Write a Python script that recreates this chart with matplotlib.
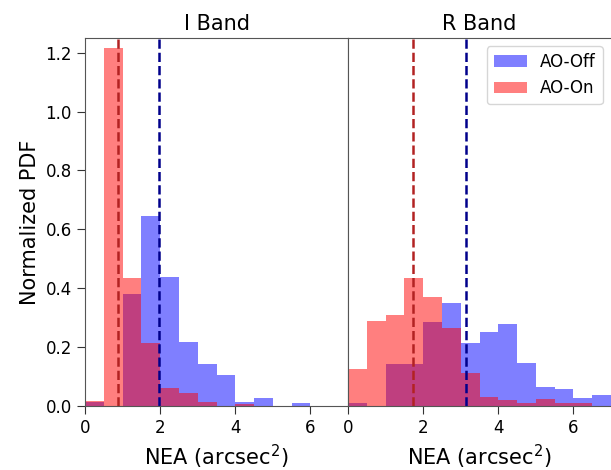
import numpy as np
import matplotlib
matplotlib.use("Agg")
import matplotlib.pyplot as plt

# bin edges (arcsec^2), width 0.5
edges = np.arange(0, 7.01, 0.5)

# I band normalized PDF per bin
i_off = [0.012, 0.0, 0.380, 0.646, 0.438, 0.217, 0.143, 0.105, 0.015, 0.027, 0.0, 0.009, 0.0, 0.0]
i_on = [0.018, 1.217, 0.434, 0.213, 0.060, 0.043, 0.015, 0.0, 0.006, 0.0, 0.0, 0.0, 0.0, 0.0]

# R band normalized PDF per bin
r_off = [0.011, 0.0, 0.143, 0.143, 0.287, 0.349, 0.215, 0.253, 0.277, 0.147, 0.066, 0.057, 0.027, 0.037]
r_on = [0.125, 0.290, 0.310, 0.434, 0.370, 0.266, 0.111, 0.032, 0.020, 0.011, 0.023, 0.011, 0.009, 0.0]

# medians
i_med_off, i_med_on = 1.96, 0.87
r_med_off, r_med_on = 3.13, 1.73

panels = [
    ("I Band", i_off, i_on, i_med_off, i_med_on),
    ("R Band", r_off, r_on, r_med_off, r_med_on),
]

fig = plt.figure(figsize=(6.11, 4.70), dpi=100)
ax1 = fig.add_axes([85 / 611, 64 / 470, 263 / 611, 368 / 470])
ax2 = fig.add_axes([348 / 611, 64 / 470, 263 / 611, 368 / 470], sharey=ax1)

centers = edges[:-1]
for ax, (title, off, on, m_off, m_on) in zip([ax1, ax2], panels):
    ax.hist(centers, bins=edges, weights=off, color="blue", alpha=0.5, label="AO-Off")
    ax.hist(centers, bins=edges, weights=on, color="red", alpha=0.5, label="AO-On")
    ax.axvline(m_off, color="darkblue", ls="--", lw=1.8)
    ax.axvline(m_on, color="firebrick", ls="--", lw=1.8)
    ax.set_xlim(0, 7)
    ax.set_xticks([0, 2, 4, 6])
    ax.set_title(title, fontsize=15, pad=6)
    ax.set_xlabel("NEA (arcsec$^2$)", fontsize=15)
    for sp in ax.spines.values():
        sp.set_color("#555555")
    ax.tick_params(labelsize=12, length=6, color="#333333")

ax1.set_ylim(0, 1.25)
ax1.set_yticks([0.0, 0.2, 0.4, 0.6, 0.8, 1.0, 1.2])
ax1.set_ylabel("Normalized PDF", fontsize=15)
ax2.tick_params(left=False, labelleft=False)
ax2.spines["right"].set_visible(False)
ax2.legend(loc="upper right", fontsize=12)

fig.savefig("out.png", dpi=100)
